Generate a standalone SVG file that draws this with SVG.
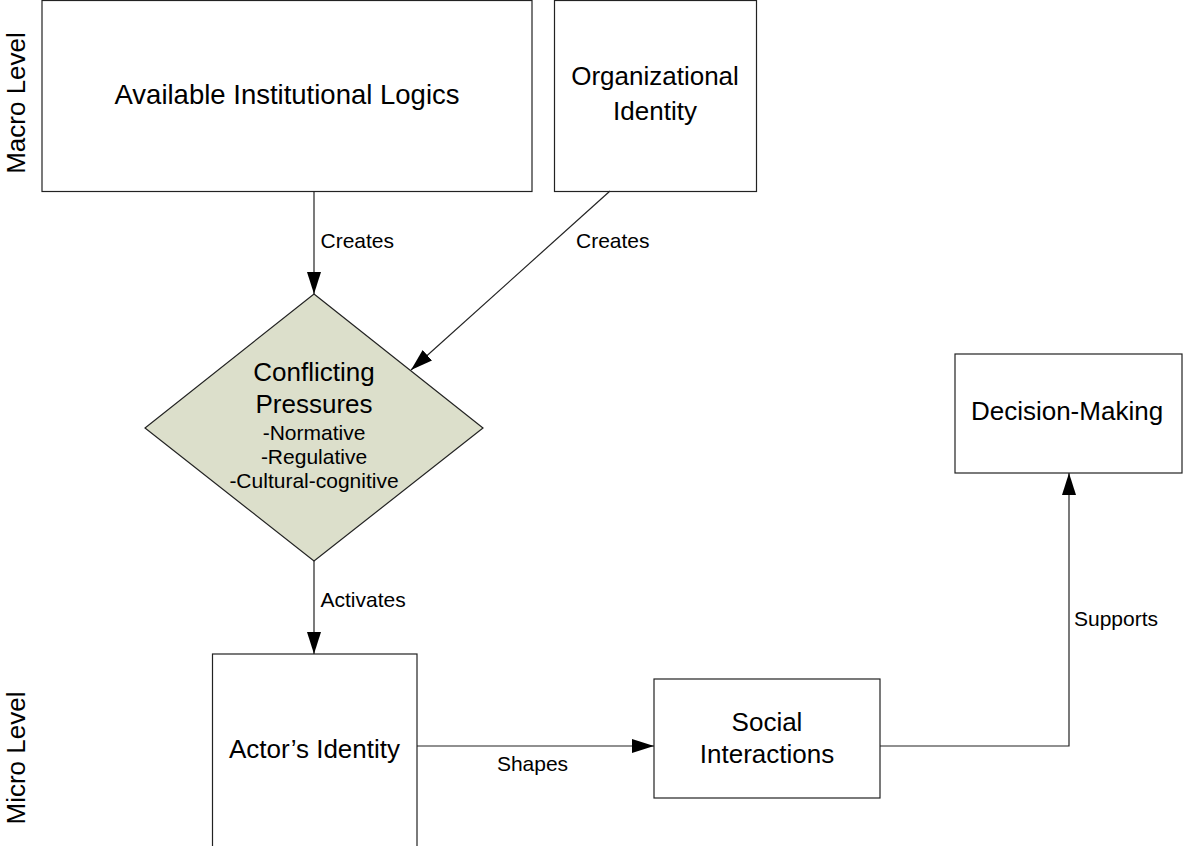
<svg xmlns="http://www.w3.org/2000/svg" width="1183" height="846" viewBox="0 0 1183 846">
<style>
.box{fill:#fff;stroke:#222;stroke-width:1.2}
.dia{fill:#dcdfcb;stroke:#222;stroke-width:1.2}
.t{font-family:"Liberation Sans",Arial,sans-serif;font-size:26px;fill:#000;text-anchor:middle}
.sm{font-family:"Liberation Sans",Arial,sans-serif;font-size:21px;fill:#000;text-anchor:middle}
.s{font-family:"Liberation Sans",Arial,sans-serif;font-size:21px;fill:#000}
.c{fill:none;stroke:#222;stroke-width:1.2}
</style>
<defs>
<marker id="ah" markerUnits="userSpaceOnUse" markerWidth="24" markerHeight="14" refX="22" refY="7" orient="auto">
<path d="M0,0 L22,7 L0,14 Z" fill="#000"/>
</marker>
</defs>
<rect width="1183" height="846" fill="#fff"/>
<g id="levels">
<text class="t" transform="translate(25,103) rotate(-90)">Macro Level</text>
<text class="t" transform="translate(25,758) rotate(-90)">Micro Level</text>
</g>
<g id="logics">
<rect class="box" x="42" y="0.5" width="490" height="191"/>
<text class="t" x="287" y="104" style="font-size:27.5px">Available Institutional Logics</text>
</g>
<g id="orgidentity">
<rect class="box" x="554.5" y="0.5" width="202" height="191"/>
<text class="t" x="655" y="85">Organizational</text>
<text class="t" x="655" y="120">Identity</text>
</g>
<g id="pressures">
<polygon class="dia" points="314,294 483,428 314,561 145,428"/>
<text class="t" x="314" y="381">Conflicting</text>
<text class="t" x="314" y="413">Pressures</text>
<text class="sm" x="314" y="440">-Normative</text>
<text class="sm" x="314" y="464">-Regulative</text>
<text class="sm" x="314" y="488">-Cultural-cognitive</text>
</g>
<g id="actor">
<rect class="box" x="212.5" y="654" width="204.5" height="200"/>
<text class="t" x="314.5" y="758">Actor’s Identity</text>
</g>
<g id="social">
<rect class="box" x="654" y="679" width="226" height="119"/>
<text class="t" x="767" y="731">Social</text>
<text class="t" x="767" y="763">Interactions</text>
</g>
<g id="decision">
<rect class="box" x="955" y="354" width="227" height="119"/>
<text class="t" x="1067" y="420">Decision-Making</text>
</g>
<g id="connectors">
<line class="c" x1="314" y1="191" x2="314" y2="294" marker-end="url(#ah)"/>
<line class="c" x1="610" y1="191" x2="411" y2="370" marker-end="url(#ah)"/>
<line class="c" x1="314" y1="561" x2="314" y2="654" marker-end="url(#ah)"/>
<line class="c" x1="417" y1="746" x2="654" y2="746" marker-end="url(#ah)"/>
<polyline class="c" points="880,746 1069,746 1069,473" marker-end="url(#ah)"/>
<text class="s" x="320.5" y="248">Creates</text>
<text class="s" x="576" y="248">Creates</text>
<text class="s" x="320.5" y="607">Activates</text>
<text class="sm" x="532.5" y="771">Shapes</text>
<text class="s" x="1074" y="626">Supports</text>
</g>
</svg>
